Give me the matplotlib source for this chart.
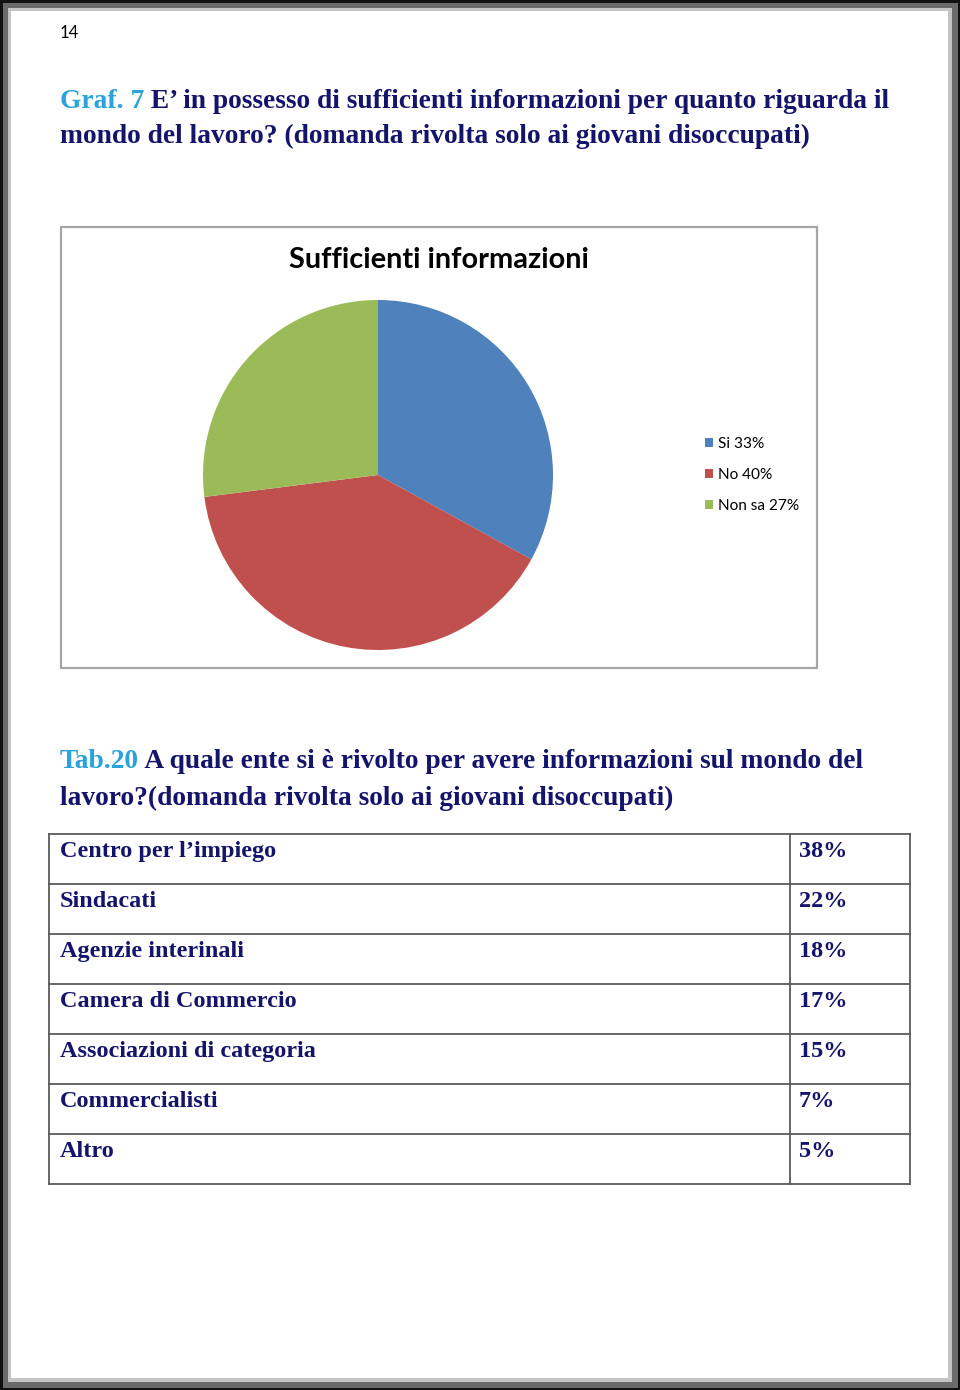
import matplotlib.pyplot as plt
from matplotlib.patches import Rectangle

W, H = 960, 1390
navy = '#14146b'
cyan = '#29a3d9'
serif = 'Liberation Serif'
sans = 'Lato'

# pie data
pie_labels = ['Si 33%', 'No 40%', 'Non sa 27%']
pie_values = [33, 40, 27]
pie_colors = ['#4f81bd', '#c0504d', '#9bbb59']

# table data
entities = ['Centro per l\u2019impiego', 'Sindacati', 'Agenzie interinali', 'Camera di Commercio',
            'Associazioni di categoria', 'Commercialisti', 'Altro']
shares = ['38%', '22%', '18%', '17%', '15%', '7%', '5%']

fig = plt.figure(figsize=(W / 100, H / 100), dpi=100)
page = fig.add_axes([0, 0, 1, 1])
page.set_xlim(0, W)
page.set_ylim(H, 0)
page.axis('off')

# page frame
page.add_patch(Rectangle((0, 0), W, H, facecolor='#111111', edgecolor='none'))
page.add_patch(Rectangle((2.5, 2.5), W - 5, H - 5, facecolor='#6b6b6b', edgecolor='none'))
page.add_patch(Rectangle((8, 8), W - 16, H - 16, facecolor='#c4c4c4', edgecolor='none'))
page.add_patch(Rectangle((11, 11), W - 23, H - 23, facecolor='white', edgecolor='none'))

page.text(60, 33, '14', fontsize=12, family=sans, va='center', ha='left', color='black')

def heading(y, prefix, rest, size):
    t = page.text(60, y, prefix, fontsize=size, family=serif, weight='bold', color=cyan,
                  va='baseline', ha='left')
    fig.canvas.draw()
    bb = t.get_window_extent()
    x2 = page.transData.inverted().transform((bb.x1, bb.y0))[0]
    page.text(x2, y, rest, fontsize=size, family=serif, weight='bold', color=navy,
              va='baseline', ha='left')

hs = 19.8
heading(108, 'Graf. 7', ' E\u2019 in possesso di sufficienti informazioni per quanto riguarda il', hs)
page.text(60, 143, 'mondo del lavoro? (domanda rivolta solo ai giovani disoccupati)', fontsize=hs,
          family=serif, weight='bold', color=navy, va='baseline', ha='left')

# chart box
page.add_patch(Rectangle((61, 227), 756, 441, facecolor='white', edgecolor='#a6a6a6', lw=1.6))
page.text(439, 260, 'Sufficienti informazioni', fontsize=20.8, family=sans, weight='bold',
          ha='center', va='center', color='black')

cx, cy, r = 378, 475, 175
pax = fig.add_axes([(cx - r) / W, (H - cy - r) / H, 2 * r / W, 2 * r / H])
wedges, _ = pax.pie(pie_values, colors=pie_colors, startangle=90, counterclock=False,
                    wedgeprops=dict(linewidth=0))
pax.set_xlim(-1, 1)
pax.set_ylim(-1, 1)
pax.set_aspect('auto')
pax.axis('off')

fig.legend(wedges, pie_labels, loc='upper left', bbox_to_anchor=(697 / W, 1 - 429 / H),
           frameon=False, prop={'family': sans, 'size': 11.1}, handlelength=0.55,
           handleheight=0.55, handletextpad=0.3, labelspacing=1.12, borderpad=0)

heading(768, 'Tab.20', ' A quale ente si \u00e8 rivolto per avere informazioni sul mondo del', hs)
page.text(60, 805, 'lavoro?(domanda rivolta solo ai giovani disoccupati)', fontsize=hs,
          family=serif, weight='bold', color=navy, va='baseline', ha='left')

# table
top, rh = 834, 50
left, mid, right = 49, 790, 910
n = len(entities)
for i in range(n + 1):
    page.plot([left, right], [top + i * rh, top + i * rh], color='#5a5a5a', lw=1.3)
for x in (left, mid, right):
    page.plot([x, x], [top, top + n * rh], color='#5a5a5a', lw=1.3)
for i, (e, s) in enumerate(zip(entities, shares)):
    y = top + i * rh + 23
    page.text(60, y, e, fontsize=17.5, family=serif, weight='bold', color=navy, va='baseline')
    page.text(799, y, s, fontsize=17.5, family=serif, weight='bold', color=navy, va='baseline')

fig.savefig('out.png', dpi=100)
